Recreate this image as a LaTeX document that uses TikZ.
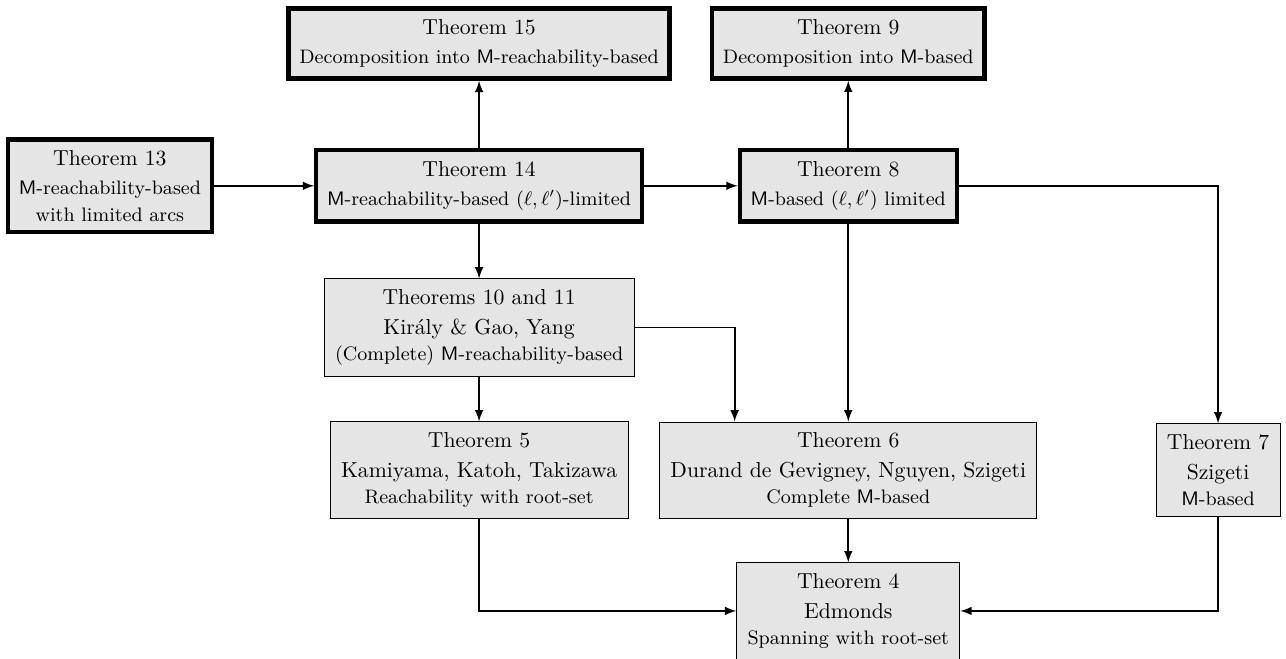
\documentclass[tikz,border=0pt]{standalone}
\usepackage{amsmath,amssymb,amsfonts}
\usepackage{tikz}

\tikzset{
  thm/.style={draw, fill=gray!20, align=center, inner sep=5pt},
  keythm/.style={thm, line width=2pt},
  link/.style={thick, -latex},
}

\begin{document}
\begin{tikzpicture}
\useasboundingbox (0,0) rectangle (20.83,10.66);
% top row
\node[keythm] (t15) at (7.76,9.955) {Theorem 15\\[1.6pt]{\small Decomposition into \textsf{M}-reachability-based}};
\node[keythm] (t9) at (13.74,9.955) {Theorem 9\\[1.6pt]{\small Decomposition into \textsf{M}-based}};
% limited versions
\node[keythm] (t13) at (1.78,7.65) {Theorem 13\\[1.6pt]{\small \textsf{M}-reachability-based}\\{\small with limited arcs}};
\node[keythm] (t14) at (7.76,7.65) {Theorem 14\\[1.6pt]{\small \textsf{M}-reachability-based $(\ell,\ell')$-limited}};
\node[keythm] (t8) at (13.74,7.65) {Theorem 8\\[1.6pt]{\small \textsf{M}-based $(\ell,\ell')$ limited}};
% known results
\node[thm] (t1011) at (7.76,5.355) {Theorems 10 and 11\\[1.6pt]Kir\'aly \& Gao, Yang\\{\small (Complete) \textsf{M}-reachability-based}};
\node[thm] (t5) at (7.76,3.047) {Theorem 5\\[1.6pt]Kamiyama, Katoh, Takizawa\\{\small Reachability with root-set}};
\node[thm] (t6) at (13.74,3.047) {Theorem 6\\[1.6pt]Durand de Gevigney, Nguyen, Szigeti\\{\small Complete \textsf{M}-based}};
\node[thm] (t7) at (19.73,3.047) {Theorem 7\\[1.6pt]Szigeti\\{\small \textsf{M}-based}};
\node[thm] (t4) at (13.74,0.764) {Theorem 4\\[1.6pt]Edmonds\\{\small Spanning with root-set}};

\draw[link] (t13) -- (t14);
\draw[link] (t14) -- (t15);
\draw[link] (t14) -- (t8);
\draw[link] (t8) -- (t9);
\draw[link] (t14) -- (t1011);
\draw[link] (t8) -- (t6);
\draw[link] (t8.east) -| (t7.north);
\draw[link] (t1011.east) -| ([xshift=-1.84cm]t6.north);
\draw[link] (t1011) -- (t5);
\draw[link] (t6) -- (t4);
\draw[link] (t5.south) |- (t4.west);
\draw[link] (t7.south) |- (t4.east);
\end{tikzpicture}
\end{document}
